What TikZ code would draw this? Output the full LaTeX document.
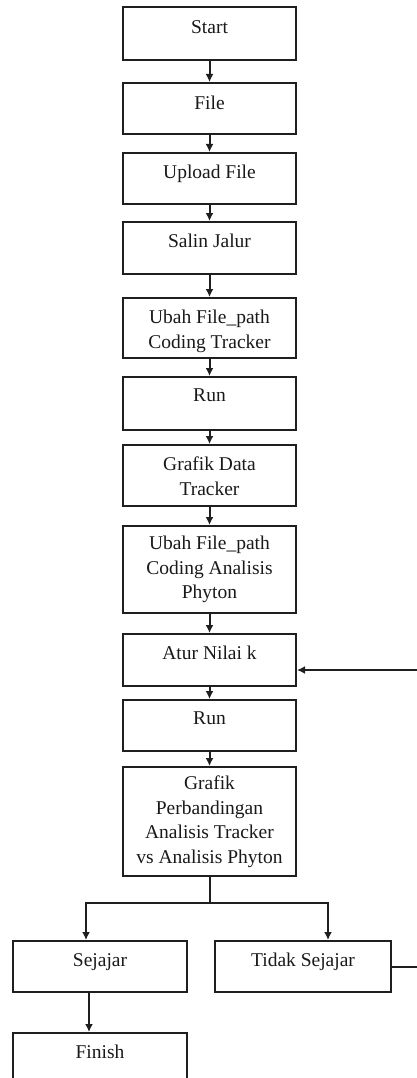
\documentclass[tikz,border=0pt]{standalone}
\usepackage{fontspec}
\setmainfont{Liberation Serif}
\usetikzlibrary{arrows.meta}
\begin{document}
\begin{tikzpicture}[x=1pt,y=-1pt,
  box/.style={draw=black!88, line width=2pt, rectangle, inner sep=0pt,
              minimum width=173pt},
  txt/.style={anchor=north, inner sep=0pt, align=center, text=black!90,
              font=\fontsize{19.5}{24.5}\selectfont},
  link/.style={draw=black!88, line width=2pt},
  arr/.style={link, -{Latex[length=8pt,width=8pt]}}]
\useasboundingbox (0,0) rectangle (417,1078);

% main column of steps
\node[box, minimum height=53pt]  (start) at (209.5,33.5)  {};
\node[box, minimum height=51pt]  (file)  at (209.5,108.5) {};
\node[box, minimum height=51pt]  (upl)   at (209.5,178.5) {};
\node[box, minimum height=52pt]  (salin) at (209.5,248)   {};
\node[box, minimum height=60pt]  (ubah1) at (209.5,328)   {};
\node[box, minimum height=53pt]  (run1)  at (209.5,403.5) {};
\node[box, minimum height=61pt]  (gdt)   at (209.5,475.5) {};
\node[box, minimum height=87pt]  (ubah2) at (209.5,569.5) {};
\node[box, minimum height=52pt]  (atur)  at (209.5,660)   {};
\node[box, minimum height=51pt]  (run2)  at (209.5,725.5) {};
\node[box, minimum height=109pt] (gp)    at (209.5,821.5) {};

% outcome boxes
\node[box, minimum width=174pt, minimum height=51pt] (sej) at (100,966.5) {};
\node[box, minimum width=176pt, minimum height=51pt] (tid) at (303,966.5) {};
\node[box, minimum width=174pt, minimum height=54pt] (fin) at (100,1060)  {};

% labels, set from the top of each box
\node[txt] (start-t) at ([yshift=-14pt]start.north) {Start};
\node[txt] (file-t)  at ([yshift=-14pt]file.north)  {File};
\node[txt] (upl-t)   at ([yshift=-13pt]upl.north)   {Upload File};
\node[txt] (salin-t) at ([yshift=-13pt]salin.north) {Salin Jalur};
\node[txt] (ubah1-t) at ([yshift=-13pt]ubah1.north) {Ubah File\_path\\Coding Tracker};
\node[txt] (run1-t)  at ([yshift=-13pt]run1.north)  {Run};
\node[txt] (gdt-t)   at ([yshift=-13pt]gdt.north)   {Grafik Data\\Tracker};
\node[txt] (ubah2-t) at ([yshift=-11pt]ubah2.north) {Ubah File\_path\\Coding Analisis\\Phyton};
\node[txt] (atur-t)  at ([yshift=-13pt]atur.north)  {Atur Nilai k};
\node[txt] (run2-t)  at ([yshift=-13pt]run2.north)  {Run};
\node[txt] (gp-t)    at ([yshift=-10pt]gp.north)    {Grafik\\Perbandingan\\Analisis Tracker\\vs Analisis Phyton};
\node[txt] (sej-t)   at ([yshift=-13pt]sej.north)   {Sejajar};
\node[txt] (tid-t)   at ([yshift=-13pt]tid.north)   {Tidak Sejajar};
\node[txt] (fin-t)   at ([yshift=-13pt]fin.north)   {Finish};

% straight flow
\draw[arr] (start.south) -- (file.north);
\draw[arr] (file.south)  -- (upl.north);
\draw[arr] (upl.south)   -- (salin.north);
\draw[arr] (salin.south) -- (ubah1.north);
\draw[arr] (ubah1.south) -- (run1.north);
\draw[arr] (run1.south)  -- (gdt.north);
\draw[arr] (gdt.south)   -- (ubah2.north);
\draw[arr] (ubah2.south) -- (atur.north);
\draw[arr] (atur.south)  -- (run2.north);
\draw[arr] (run2.south)  -- (gp.north);

% branch to the two outcomes
\coordinate (split) at (209.5,903);
\coordinate (lsplit) at (86,903);
\coordinate (rsplit) at (328,903);
\draw[link] (gp.south) -- (split);
\draw[arr] (split) -- (lsplit) -- (lsplit |- sej.north);
\draw[arr] (split) -- (rsplit) -- (rsplit |- tid.north);
\draw[arr] ([xshift=-11pt]sej.south) -- ([xshift=-11pt]fin.north);

% loop back from "Tidak Sejajar" to "Atur Nilai k"
\coordinate (loopb) at (418,966.5);
\coordinate (loopt) at (418,670);
\draw[arr] (tid.east) -- (loopb) -- (loopt) -- (atur.east |- loopt);
\end{tikzpicture}
\end{document}
